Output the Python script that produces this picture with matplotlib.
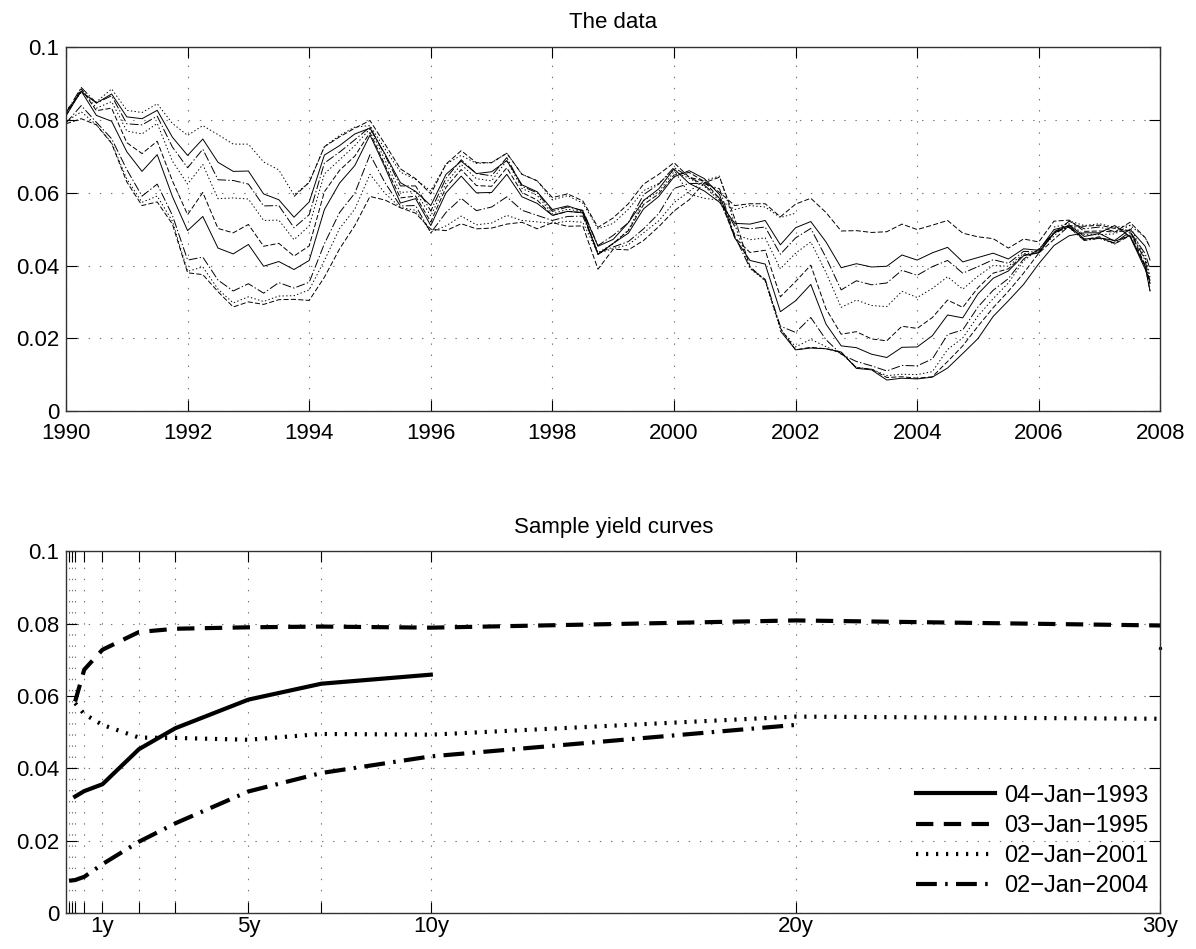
import numpy as np
import matplotlib
matplotlib.use('Agg')
import matplotlib.pyplot as plt

plt.rcParams['font.family'] = ['Liberation Sans', 'DejaVu Sans']
plt.rcParams['font.size'] = 16
plt.rcParams['lines.scale_dashes'] = False

nan = np.nan

# ---- top panel: quarterly yields (percent), Jan/Apr/Jul/Oct 1990..2007 + Nov 2007
dates = list(1990 + np.arange(72) / 4.0) + [2007.83]

m1 = [nan] * 47 + [2.20,
      1.68, 1.73, 1.71, 1.62, 1.17, 1.13, 0.85, 0.90, 0.88, 0.93, 1.18, 1.58,
      1.99, 2.60, 3.03, 3.48, 4.05, 4.55, 4.82, 4.90, 4.90, 5.10, 4.80, 3.90, 3.60]
m3 = [7.90, 8.04, 7.87, 7.36, 6.30, 5.65, 5.75, 5.14, 3.80, 3.75, 3.28, 2.86,
      3.00, 2.93, 3.06, 3.07, 3.04, 3.68, 4.46, 5.10, 5.90, 5.80, 5.59, 5.44,
      5.00, 4.96, 5.15, 5.01, 5.03, 5.14, 5.19, 5.01, 5.18, 5.08, 5.09, 3.90,
      4.45, 4.43, 4.69, 5.07, 5.50, 5.81, 6.28, 6.43, 5.29, 3.97, 3.59, 2.28,
      1.68, 1.75, 1.71, 1.61, 1.19, 1.15, 0.92, 0.94, 0.90, 0.94, 1.36, 1.79,
      2.33, 2.84, 3.29, 3.79, 4.34, 4.72, 5.09, 5.08, 5.11, 5.02, 4.96, 4.00, 3.50]
m6 = [7.96, 8.23, 7.87, 7.38, 6.38, 5.74, 5.91, 5.22, 3.84, 3.96, 3.35, 2.97,
      3.14, 3.01, 3.16, 3.17, 3.33, 4.14, 5.02, 5.55, 6.51, 5.98, 5.60, 5.52,
      4.92, 5.09, 5.36, 5.12, 5.17, 5.38, 5.24, 5.20, 5.16, 5.22, 5.19, 4.33,
      4.47, 4.57, 4.90, 5.23, 5.73, 6.04, 6.34, 6.46, 5.13, 3.92, 3.58, 2.24,
      1.76, 1.97, 1.77, 1.58, 1.20, 1.15, 0.97, 1.01, 1.00, 1.08, 1.69, 2.01,
      2.61, 3.09, 3.52, 4.13, 4.45, 4.81, 5.23, 5.10, 5.15, 5.05, 5.10, 4.20, 3.70]
y1 = [7.92, 8.40, 7.94, 7.49, 6.64, 5.91, 6.24, 5.38, 4.15, 4.23, 3.60, 3.30,
      3.50, 3.24, 3.53, 3.38, 3.54, 4.60, 5.46, 5.99, 7.05, 6.27, 5.64, 5.65,
      4.90, 5.46, 5.85, 5.51, 5.61, 5.89, 5.52, 5.38, 5.24, 5.35, 5.36, 4.35,
      4.51, 4.66, 5.01, 5.43, 6.12, 6.26, 6.25, 6.11, 4.81, 3.93, 3.62, 2.33,
      2.16, 2.57, 1.96, 1.56, 1.36, 1.24, 1.10, 1.25, 1.24, 1.43, 2.10, 2.23,
      2.86, 3.32, 3.64, 4.18, 4.45, 4.90, 5.22, 5.01, 5.06, 4.93, 4.96, 4.14, 3.50]
y2 = [8.12, 8.80, 8.13, 7.97, 7.13, 6.59, 7.05, 5.90, 4.96, 5.35, 4.48, 4.32,
      4.58, 3.98, 4.11, 3.89, 4.14, 5.54, 6.27, 6.75, 7.59, 6.69, 5.72, 5.84,
      5.10, 6.00, 6.46, 6.00, 6.01, 6.51, 5.89, 5.71, 5.38, 5.49, 5.45, 4.30,
      4.61, 4.89, 5.56, 5.90, 6.44, 6.61, 6.39, 5.95, 4.76, 4.14, 4.04, 2.73,
      3.03, 3.48, 2.39, 1.79, 1.74, 1.56, 1.47, 1.75, 1.76, 2.07, 2.64, 2.56,
      3.22, 3.65, 3.85, 4.27, 4.35, 4.89, 5.12, 4.80, 4.88, 4.67, 4.82, 3.97, 3.30]
y3 = [8.13, 8.86, 8.26, 8.33, 7.38, 7.08, 7.42, 6.33, 5.40, 6.01, 5.02, 4.90,
      5.13, 4.53, 4.61, 4.26, 4.54, 6.03, 6.62, 7.01, 7.66, 6.75, 5.86, 5.91,
      5.20, 6.15, 6.64, 6.20, 6.18, 6.69, 6.01, 5.80, 5.38, 5.49, 5.46, 4.31,
      4.61, 4.96, 5.68, 5.97, 6.49, 6.56, 6.31, 5.84, 4.77, 4.36, 4.42, 3.14,
      3.56, 4.01, 2.81, 2.11, 2.18, 1.98, 1.93, 2.33, 2.27, 2.57, 3.05, 2.85,
      3.39, 3.79, 3.91, 4.29, 4.35, 4.89, 5.07, 4.72, 4.79, 4.60, 4.82, 4.01, 3.30]
y5 = [8.12, 8.86, 8.33, 8.51, 7.70, 7.62, 7.91, 6.87, 6.24, 6.78, 5.84, 5.86,
      5.83, 5.24, 5.25, 4.71, 5.09, 6.52, 6.91, 7.30, 7.76, 6.89, 6.01, 6.04,
      5.36, 6.27, 6.78, 6.39, 6.33, 6.89, 6.12, 5.93, 5.42, 5.55, 5.48, 4.35,
      4.60, 4.98, 5.79, 6.03, 6.58, 6.40, 6.18, 5.78, 4.86, 4.71, 4.76, 3.91,
      4.34, 4.65, 3.81, 2.85, 3.05, 2.90, 2.87, 3.29, 3.12, 3.37, 3.69, 3.35,
      3.71, 4.00, 3.98, 4.33, 4.35, 4.90, 5.04, 4.69, 4.75, 4.59, 4.88, 4.20, 3.65]
y7 = [8.20, 8.90, 8.47, 8.67, 7.90, 7.87, 8.11, 7.26, 6.69, 7.20, 6.36, 6.34,
      6.24, 5.64, 5.65, 5.04, 5.40, 6.82, 7.12, 7.46, 7.81, 7.02, 6.19, 6.19,
      5.50, 6.40, 6.91, 6.53, 6.47, 6.97, 6.18, 6.00, 5.49, 5.61, 5.52, 4.55,
      4.83, 5.18, 5.95, 6.24, 6.70, 6.43, 6.21, 5.85, 5.07, 5.01, 5.06, 4.31,
      4.76, 5.02, 4.22, 3.33, 3.58, 3.47, 3.52, 3.87, 3.73, 3.97, 4.14, 3.79,
      3.97, 4.16, 4.06, 4.39, 4.37, 4.94, 5.05, 4.69, 4.75, 4.62, 4.93, 4.33, 3.90]
y10 = [8.21, 8.79, 8.47, 8.72, 8.09, 8.04, 8.27, 7.53, 7.03, 7.48, 6.84, 6.59,
       6.60, 5.97, 5.81, 5.33, 5.75, 7.04, 7.30, 7.62, 7.78, 7.06, 6.28, 6.04,
       5.65, 6.51, 6.87, 6.53, 6.58, 6.89, 6.22, 6.03, 5.54, 5.64, 5.50, 4.53,
       4.72, 5.18, 5.79, 6.11, 6.66, 6.26, 6.05, 5.74, 5.16, 5.14, 5.24, 4.57,
       5.04, 5.21, 4.65, 3.94, 4.05, 3.96, 3.98, 4.29, 4.15, 4.35, 4.50, 4.10,
       4.22, 4.34, 4.18, 4.46, 4.42, 4.99, 5.09, 4.73, 4.76, 4.69, 5.00, 4.53, 4.15]
y20 = [nan] * 15 + [5.90,
       6.29, 7.27, 7.54, 7.78, 7.99, 7.33, 6.66, 6.39, 5.97, 6.79, 7.16, 6.83,
       6.83, 7.09, 6.51, 6.33, 5.87, 5.97, 5.78, 5.05, 5.31, 5.70, 6.24, 6.51,
       6.83, 6.43, 6.32, 6.01, 5.65, 5.70, 5.70, 5.34, 5.69, 5.85, 5.46, 4.95,
       4.96, 4.91, 4.93, 5.14, 4.99, 5.11, 5.24, 4.89, 4.79, 4.74, 4.48, 4.73,
       4.65, 5.22, 5.25, 4.94, 4.95, 4.92, 5.19, 4.77, 4.50]
y30 = [8.26, 8.76, 8.50, 8.86, 8.27, 8.21, 8.45, 7.91, 7.58, 7.85, 7.60, 7.34,
       7.34, 6.85, 6.63, 5.94, 6.29, 7.27, 7.58, 7.81, 7.85, 7.20, 6.57, 6.37,
       6.05, 6.79, 7.03, 6.81, 6.83, 7.09, 6.51, 6.33, 5.81, 5.92, 5.72, 5.01,
       5.16, 5.55, 6.06, 6.26, 6.63, 5.96, 5.85, 5.80, 5.54, 5.65, 5.61, 5.32,
       5.44] + [nan] * 16 + [5.06, 5.15, 4.85, 4.85, 4.87, 5.11, 4.77, 4.50]

series = [m1, m3, m6, y1, y2, y3, y5, y7, y10, y20, y30]

# ---- bottom panel: sample yield curves
mats = [1/12, 3/12, 6/12, 1, 2, 3, 5, 7, 10, 20, 30]
c1993 = [nan, 0.0322, 0.0337, 0.0356, 0.0453, 0.0511, 0.0590, 0.0634, 0.0659, nan, 0.0733]
c1995 = [nan, 0.0585, 0.0673, 0.0728, 0.0777, 0.0786, 0.0790, 0.0792, 0.0789, 0.0809, 0.0795]
c2001 = [nan, 0.0580, 0.0550, 0.0520, 0.0485, 0.0484, 0.0479, 0.0495, 0.0493, 0.0543, 0.0537]
c2004 = [0.0089, 0.0091, 0.0100, 0.0135, 0.0197, 0.0248, 0.0336, 0.0387, 0.0433, 0.0520, nan]
curve_names = ['04\u2212Jan\u22121993', '03\u2212Jan\u22121995', '02\u2212Jan\u22122001', '02\u2212Jan\u22122004']

xtick_mats = [1/12, 2/12, 3/12, 6/12, 1, 2, 3, 5, 7, 10, 20, 30]
xtick_labels = ['', '', '', '', '1y', '', '', '5y', '', '10y', '20y', '30y']
ytick_vals = [0, 0.02, 0.04, 0.06, 0.08, 0.1]
ytick_labels = ['0', '0.02', '0.04', '0.06', '0.08', '0.1']


def style_axes(ax, xpad):
    ax.set_axisbelow(True)
    ax.grid(True, linestyle=(0, (1, 7)), color='0.45', linewidth=0.8)
    ax.tick_params(direction='in', length=8, width=0.8, top=True, right=True,
                   labelsize=16, colors='k')
    ax.tick_params(axis='x', pad=xpad)
    ax.tick_params(axis='y', pad=5)
    for sp in ax.spines.values():
        sp.set_linewidth(1.0)
        sp.set_color('0.2')
    ax.set_ylim(0, 0.1)
    ax.set_yticks(ytick_vals)
    ax.set_yticklabels(ytick_labels)


fig = plt.figure(figsize=(11.96, 9.49), dpi=100)

ax1 = fig.add_axes([0.0552, 0.567, 0.915, 0.383])
styles = ['-', '--', ':', '-.']
for i, s in enumerate(series):
    ax1.plot(dates, np.array(s) / 100, color='k', linewidth=0.7, linestyle=styles[i % 4])
ax1.set_xlim(1990, 2008)
ax1.set_xticks(range(1990, 2009, 2))
style_axes(ax1, 8.5)
ax1.set_title('The data', fontsize=16, pad=14)

ax2 = fig.add_axes([0.0552, 0.038, 0.915, 0.381])
curves = [c1993, c1995, c2001, c2004]
thick_styles = ['-', (0, (12.5, 7.5)), (0, (1.6, 5.6)), (0, (15, 6, 1.8, 6))]
for c, ls, name in zip(curves, thick_styles, curve_names):
    ax2.plot(mats, c, color='k', linewidth=3, linestyle=ls, label=name)
# isolated 30y point of the 1993 curve
ax2.plot(mats[-1], c1993[-1], 'k.', markersize=3, clip_on=False)
ax2.set_xlim(0, 30)
ax2.set_xticks(xtick_mats)
ax2.set_xticklabels(xtick_labels)
style_axes(ax2, 2.5)
ax2.set_title('Sample yield curves', fontsize=16, pad=13.5)
ax2.legend(loc='lower right', bbox_to_anchor=(0.993, 0.03), frameon=False,
           fontsize=17, handlelength=3.35, handletextpad=0.38, labelspacing=0.35,
           borderaxespad=0, borderpad=0.2)

fig.savefig('out.png', dpi=100)
